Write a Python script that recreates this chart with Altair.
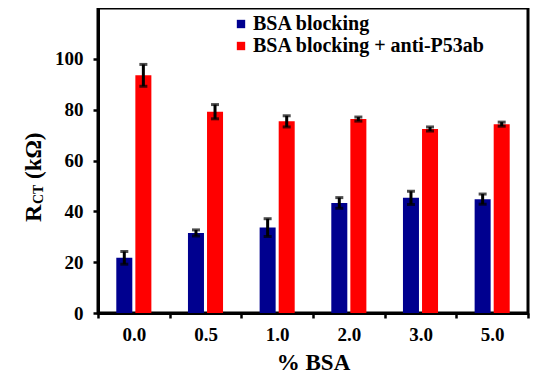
import altair as alt
import pandas as pd

categories = ["0.0", "0.5", "1.0", "2.0", "3.0", "5.0"]
series_names = ["BSA blocking", "BSA blocking + anti-P53ab"]
blue_vals = [21.7, 31.5, 33.6, 43.3, 45.3, 44.8]
blue_err = [2.5, 1.2, 3.5, 2.1, 2.6, 2.0]
red_vals = [93.5, 79.2, 75.4, 76.3, 72.4, 74.3]
red_err = [4.3, 2.8, 2.2, 0.8, 0.8, 0.8]
colors = ["#00008F", "#FF0000"]
y_ticks = [0, 20, 40, 60, 80, 100]

rows = []
for c, v, e in zip(categories, blue_vals, blue_err):
    rows.append({"cat": c, "series": series_names[0], "v": v, "lo": v - e, "hi": v + e})
for c, v, e in zip(categories, red_vals, red_err):
    rows.append({"cat": c, "series": series_names[1], "v": v, "lo": v - e, "hi": v + e})
df = pd.DataFrame(rows)

FONT = "Liberation Serif"
W, H = 430, 305

x_enc = alt.X("cat:N", sort=categories,
              scale=alt.Scale(paddingInner=0, paddingOuter=0),
              axis=alt.Axis(title="% BSA", tickBand="extent", labelAngle=0,
                            labelFontSize=19, labelFont=FONT, labelFontWeight="bold",
                            labelColor="black", labelPadding=7,
                            titleFontSize=23, titleFont=FONT, titleFontWeight="bold",
                            titleColor="black", titlePadding=7,
                            tickSize=5, tickWidth=2.5, tickColor="black",
                            domainColor="black", domainWidth=3))
xo_enc = alt.XOffset("series:N", sort=series_names,
                     scale=alt.Scale(paddingInner=0.16, paddingOuter=0.96))
y_enc = alt.Y("v:Q", scale=alt.Scale(domain=[0, 120], nice=False),
              axis=alt.Axis(title=None, values=y_ticks, grid=False,
                            labelFontSize=19, labelFont=FONT, labelFontWeight="bold",
                            labelColor="black", labelPadding=10,
                            tickSize=5, tickWidth=2.5, tickColor="black",
                            domainColor="black", domainWidth=3))

bars = alt.Chart(df).mark_bar().encode(
    x=x_enc, xOffset=xo_enc, y=y_enc,
    color=alt.Color("series:N", sort=series_names,
                    scale=alt.Scale(domain=series_names, range=colors),
                    legend=alt.Legend(title=None, orient="none", legendX=133, legendY=6,
                                      symbolType="square", symbolSize=70,
                                      symbolStrokeWidth=0, labelFont=FONT,
                                      labelFontSize=20, labelFontWeight="bold",
                                      labelColor="black", labelOffset=2, labelLimit=500,
                                      rowPadding=2, padding=0)),
)

err = alt.Chart(df).mark_rule(color="black", strokeWidth=3).encode(
    x=alt.X("cat:N", sort=categories), xOffset=alt.XOffset("series:N", sort=series_names),
    y="lo:Q", y2="hi:Q",
)
cap_lo = alt.Chart(df).mark_tick(color="black", thickness=3, size=8, orient="horizontal").encode(
    x=alt.X("cat:N", sort=categories), xOffset=alt.XOffset("series:N", sort=series_names),
    y="lo:Q",
)
cap_hi = alt.Chart(df).mark_tick(color="black", thickness=3, size=8, orient="horizontal").encode(
    x=alt.X("cat:N", sort=categories), xOffset=alt.XOffset("series:N", sort=series_names),
    y="hi:Q",
)

t_r = alt.Chart(pd.DataFrame({"t": ["R"]})).mark_text(
    angle=270, align="left", baseline="alphabetic", font=FONT, fontWeight="bold",
    fontSize=24, color="black").encode(text="t:N", x=alt.value(-57), y=alt.value(214))
t_ct = alt.Chart(pd.DataFrame({"t": ["CT"]})).mark_text(
    angle=270, align="left", baseline="alphabetic", font=FONT, fontWeight="bold",
    fontSize=14, color="black").encode(text="t:N", x=alt.value(-55), y=alt.value(196))
t_k = alt.Chart(pd.DataFrame({"t": ["(kΩ)"]})).mark_text(
    angle=270, align="left", baseline="alphabetic", font=FONT, fontWeight="bold",
    fontSize=23, color="black").encode(text="t:N", x=alt.value(-57), y=alt.value(171))

chart = alt.layer(bars, err, cap_lo, cap_hi, t_r, t_ct, t_k).properties(
    width=W, height=H,
    autosize=alt.AutoSizeParams(type="none"),
    padding={"left": 90, "top": 0, "right": 5, "bottom": 60},
).configure_view(stroke="black", strokeWidth=3).configure_scale(
    bandWithNestedOffsetPaddingInner=0, bandWithNestedOffsetPaddingOuter=0
)

chart.save("out.html", embed_options={"renderer": "svg", "actions": False})
